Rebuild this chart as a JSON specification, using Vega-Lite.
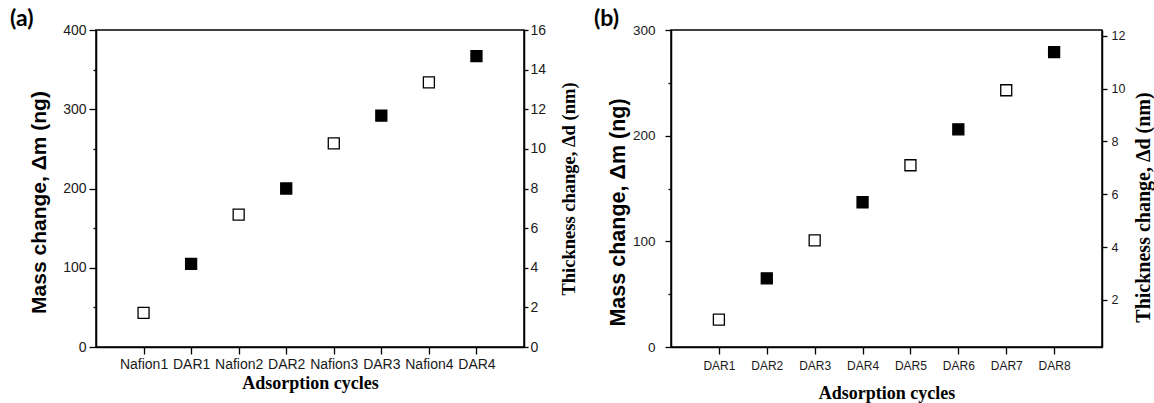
{
  "$schema": "https://vega.github.io/schema/vega-lite/v6.json",
  "background": "white",
  "padding": {"left": 9, "top": 7, "right": 0, "bottom": 0},
  "bounds": "flush",
  "spacing": 147,
  "config": {
    "view": {"stroke": "black", "strokeWidth": 1.5},
    "axis": {"grid": false, "domainColor": "black", "domainWidth": 1.5, "tickColor": "black", "tickWidth": 1.3, "labelColor": "#1a1a1a", "labelFont": "Liberation Sans", "titleColor": "black", "labelOverlap": false}
  },
  "hconcat": [
    {
      "width": 428,
      "height": 317,
      "title": {"text": "(a)", "anchor": "start", "frame": "group", "dx": -86, "offset": -8, "font": "Lato", "fontSize": 23, "fontWeight": "bold", "color": "black"},
      "data": {"values": [
        {"cycle": "Nafion1", "mass": 43, "thickness": 1.72, "kind": "open"},
        {"cycle": "DAR1", "mass": 105, "thickness": 4.2, "kind": "filled"},
        {"cycle": "Nafion2", "mass": 167, "thickness": 6.68, "kind": "open"},
        {"cycle": "DAR2", "mass": 200, "thickness": 8.0, "kind": "filled"},
        {"cycle": "Nafion3", "mass": 257, "thickness": 10.28, "kind": "open"},
        {"cycle": "DAR3", "mass": 292, "thickness": 11.68, "kind": "filled"},
        {"cycle": "Nafion4", "mass": 334, "thickness": 13.36, "kind": "open"},
        {"cycle": "DAR4", "mass": 367, "thickness": 14.68, "kind": "filled"}
      ]},
      "layer": [
        {
          "mark": {"type": "point", "shape": "square", "size": 121, "filled": true, "stroke": "black", "strokeWidth": 1.3, "opacity": 1},
          "encoding": {
            "x": {"field": "cycle", "type": "nominal", "sort": null, "scale": {"type": "point", "padding": 1},
                  "axis": {"title": "Adsorption cycles", "titleFont": "Liberation Serif", "titleFontSize": 18, "titleFontWeight": "bold", "labelFont": "Liberation Sans", "labelFontSize": 14, "labelAngle": 0, "tickSize": 7, "labelPadding": 3, "titlePadding": 3}},
            "y": {"field": "mass", "type": "quantitative", "scale": {"domain": [0, 400]},
                  "axis": {"values": [0, 100, 200, 300, 400], "tickSize": 7, "labelPadding": 3, "labelFont": "Liberation Sans", "labelFontSize": 14, "title": "Mass change, Δm (ng)", "titleFont": "Liberation Sans", "titleFontSize": 21, "titleFontWeight": "bold", "titlePadding": 13, "titleY": 172}},
            "fill": {"field": "kind", "type": "nominal", "scale": {"domain": ["open", "filled"], "range": ["white", "black"]}, "legend": null}
          }
        },
        {
          "mark": {"type": "point", "opacity": 0},
          "encoding": {
            "x": {"field": "cycle", "type": "nominal", "sort": null},
            "y": {"field": "thickness", "type": "quantitative", "scale": {"domain": [0, 16]},
                  "axis": {"orient": "right", "values": [0, 2, 4, 6, 8, 10, 12, 14, 16], "tickSize": 4, "labelPadding": 2, "labelFont": "Liberation Sans", "labelFontSize": 14, "title": "Thickness change, Δd (nm)", "titleFont": "Liberation Serif", "titleFontSize": 18.5, "titleFontWeight": "bold", "titleAngle": 270, "titleBaseline": "top", "titlePadding": 14}}
          }
        },
        {
          "mark": {"type": "point", "opacity": 0},
          "encoding": {
            "y": {"field": "mass", "type": "quantitative", "scale": {"domain": [0, 400]},
                  "axis": {"orient": "left", "values": [50, 150, 250, 350], "labels": false, "domain": false, "tickSize": 3, "title": null}}
          }
        }
      ],
      "resolve": {"scale": {"y": "independent"}}
    },
    {
      "width": 431,
      "height": 317,
      "title": {"text": "(b)", "anchor": "start", "frame": "group", "dx": -77, "offset": -8, "font": "Lato", "fontSize": 23, "fontWeight": "bold", "color": "black"},
      "data": {"values": [
        {"cycle": "DAR1", "mass": 26, "thickness": 1.26, "kind": "open"},
        {"cycle": "DAR2", "mass": 65, "thickness": 2.82, "kind": "filled"},
        {"cycle": "DAR3", "mass": 101, "thickness": 4.26, "kind": "open"},
        {"cycle": "DAR4", "mass": 137, "thickness": 5.7, "kind": "filled"},
        {"cycle": "DAR5", "mass": 172, "thickness": 7.1, "kind": "open"},
        {"cycle": "DAR6", "mass": 206, "thickness": 8.46, "kind": "filled"},
        {"cycle": "DAR7", "mass": 243, "thickness": 9.94, "kind": "open"},
        {"cycle": "DAR8", "mass": 279, "thickness": 11.38, "kind": "filled"}
      ]},
      "layer": [
        {
          "mark": {"type": "point", "shape": "square", "size": 121, "filled": true, "stroke": "black", "strokeWidth": 1.3, "opacity": 1},
          "encoding": {
            "x": {"field": "cycle", "type": "nominal", "sort": null, "scale": {"type": "point", "padding": 1},
                  "axis": {"title": "Adsorption cycles", "titleFont": "Liberation Serif", "titleFontSize": 18, "titleFontWeight": "bold", "labelFont": "Liberation Sans", "labelFontSize": 12, "labelAngle": 0, "tickSize": 7, "labelPadding": 6, "titlePadding": 13}},
            "y": {"field": "mass", "type": "quantitative", "scale": {"domain": [0, 300]},
                  "axis": {"values": [0, 100, 200, 300], "tickSize": 6, "labelPadding": 10, "labelFont": "Liberation Sans", "labelFontSize": 13.5, "title": "Mass change, Δm (ng)", "titleFont": "Liberation Sans", "titleFontSize": 21.5, "titleFontWeight": "bold", "titlePadding": 3, "titleY": 182}},
            "fill": {"field": "kind", "type": "nominal", "scale": {"domain": ["open", "filled"], "range": ["white", "black"]}, "legend": null}
          }
        },
        {
          "mark": {"type": "point", "opacity": 0},
          "encoding": {
            "x": {"field": "cycle", "type": "nominal", "sort": null},
            "y": {"field": "thickness", "type": "quantitative", "scale": {"domain": [0.22, 12.22]},
                  "axis": {"orient": "right", "values": [2, 4, 6, 8, 10, 12], "tickSize": 5, "labelPadding": 4, "labelFont": "Liberation Sans", "labelFontSize": 12.5, "title": "Thickness change, Δd (nm)", "titleFont": "Liberation Serif", "titleFontSize": 20, "titleFontWeight": "bold", "titleAngle": 270, "titleBaseline": "top", "titlePadding": 9, "titleY": 177}}
          }
        },
        {
          "mark": {"type": "point", "opacity": 0},
          "encoding": {
            "y": {"field": "mass", "type": "quantitative", "scale": {"domain": [0, 300]},
                  "axis": {"orient": "left", "values": [50, 150, 250], "labels": false, "domain": false, "tickSize": 3, "title": null}}
          }
        }
      ],
      "resolve": {"scale": {"y": "independent"}}
    }
  ]
}
